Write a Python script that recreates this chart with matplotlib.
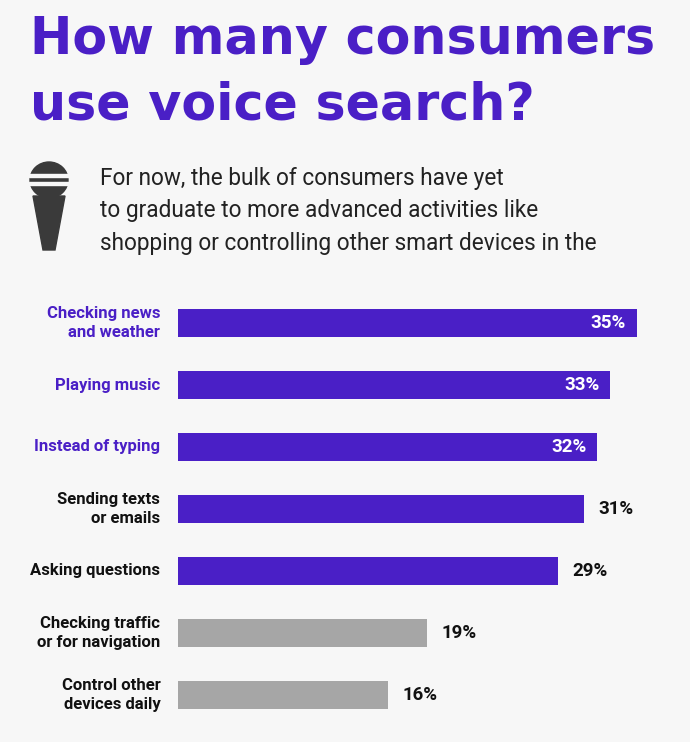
import matplotlib
matplotlib.use("Agg")
import matplotlib.pyplot as plt
from matplotlib.patches import Rectangle, Polygon, Ellipse

categories = ["Checking news\nand weather", "Playing music", "Instead of typing",
              "Sending texts\nor emails", "Asking questions",
              "Checking traffic\nor for navigation", "Control other\ndevices daily"]
values = [35, 33, 32, 31, 29, 19, 16]
highlight = [True, True, True, True, True, False, False]
label_purple = [True, True, True, False, False, False, False]
inside = [True, True, True, False, False, False, False]

PURPLE = "#4a1fc6"
GRAY = "#a6a6a6"
BG = "#f7f7f7"
W, H = 690, 742
fig = plt.figure(figsize=(6.9, 7.42), dpi=100, facecolor=BG)

def fx(x): return x / W
def fy(y): return 1 - y / H

fig.text(fx(30), fy(40), "How many consumers", fontsize=36.5, fontweight="heavy",
         color=PURPLE, family="DejaVu Sans", va="center", ha="left")
fig.text(fx(30), fy(105), "use voice search?", fontsize=36.5, fontweight="heavy",
         color=PURPLE, family="DejaVu Sans", va="center", ha="left")

sub = ["For now, the bulk of consumers have yet",
       "to graduate to more advanced activities like",
       "shopping or controlling other smart devices in the"]
for i, s in enumerate(sub):
    fig.text(fx(100), fy(178 + i * 33), s, fontsize=16.3, color="#222222",
             family="Roboto", va="center", ha="left")

# microphone icon
ia = fig.add_axes([fx(25), fy(252), fx(48), (252 - 160) / H])
ia.set_xlim(0, 48); ia.set_ylim(92, 0); ia.axis("off")
ia.add_patch(Ellipse((24, 20), 38, 36, color="#3a3a3a"))
for yy in (14, 22):
    ia.add_patch(Rectangle((4, yy), 40, 2.5, color=BG))
ia.add_patch(Polygon([[8, 36], [40, 36], [30, 90], [18, 90]], closed=True, color="#3a3a3a"))

ax = fig.add_axes([fx(178), fy(726), fx(690 - 178), (726 - 292) / H])
ax.set_facecolor(BG)
ax.set_xlim(0, 512 / 13.1)
ax.set_ylim(len(values) - 0.5, -0.5)
ax.axis("off")
ys = list(range(len(values)))
ax.barh(ys, values, height=0.45, color=[PURPLE if h else GRAY for h in highlight])
for y, v, c, lp, ins in zip(ys, values, categories, label_purple, inside):
    ax.text(-1.35, y, c, ha="right", va="center", fontsize=12, fontweight="bold",
            color=PURPLE if lp else "#111111", family="Roboto", linespacing=1.3)
    if ins:
        ax.text(v - 0.8, y, f"{v}%", ha="right", va="center", fontsize=13.5,
                fontweight="bold", color="white", family="Roboto")
    else:
        ax.text(v + 1.1, y, f"{v}%", ha="left", va="center", fontsize=13.5,
                fontweight="bold", color="#111111", family="Roboto")

fig.savefig("out.png", dpi=100, facecolor=BG)
